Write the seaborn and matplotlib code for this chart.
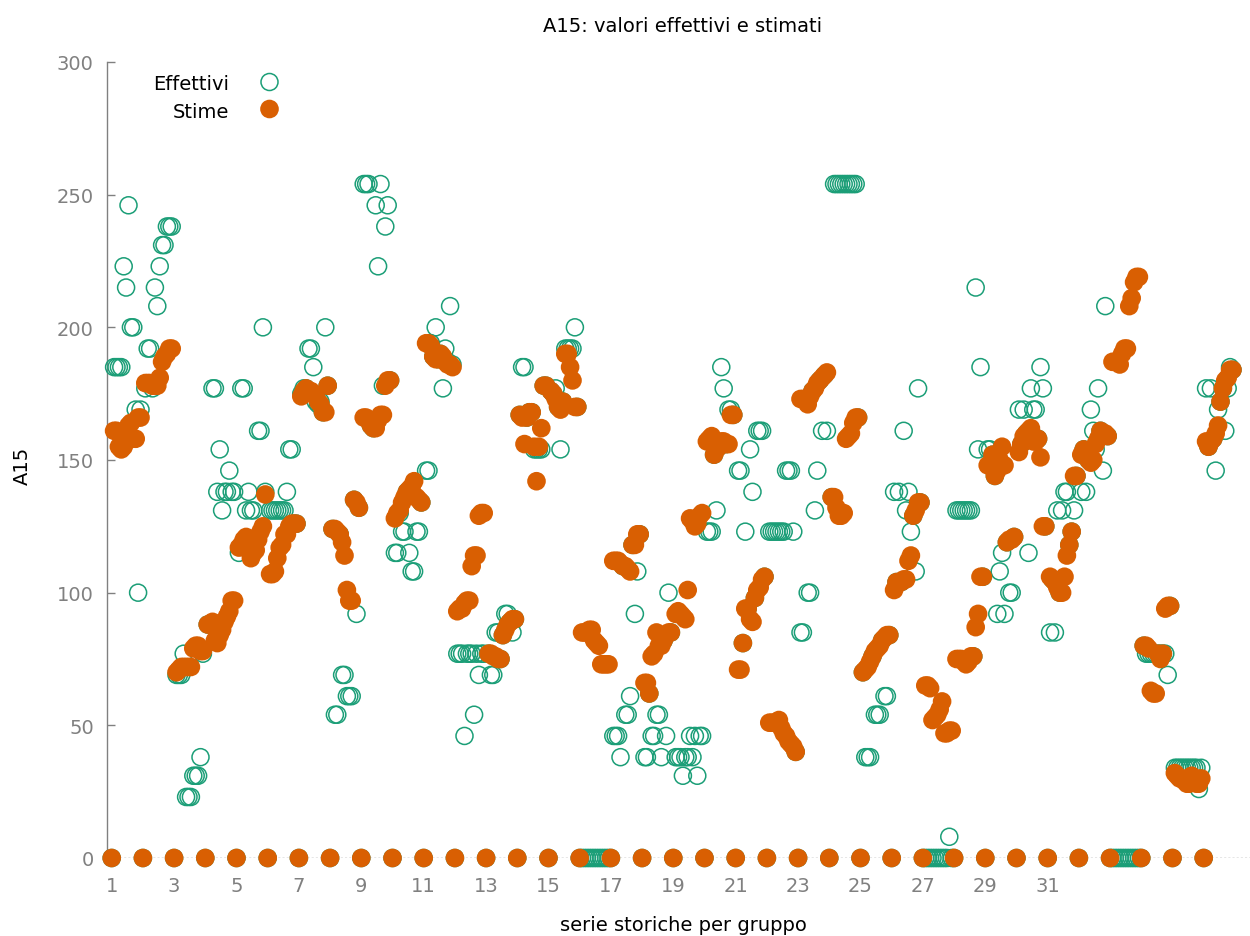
import numpy as np
import pandas as pd
import seaborn as sns
import matplotlib.pyplot as plt

# panel: 36 groups, 13 observations each (first observation of each group is 0)
T = 13
group_labels = [str(g) for g in range(1, 32, 2)]

effettivi = [
    [185, 185, 185, 185, 223, 215, 246, 200, 200, 169, 100, 169],
    [177, 192, 192, 177, 215, 208, 223, 231, 231, 238, 238, 238],
    [69, 69, 69, 77, 23, 23, 23, 31, 31, 31, 38, 77],
    [88, 88, 177, 177, 138, 154, 131, 138, 138, 146, 138, 138],
    [115, 177, 177, 131, 138, 131, 131, 120, 161, 161, 200, 138],
    [131, 131, 131, 131, 131, 131, 131, 138, 154, 154, 126, 126],
    [175, 177, 177, 192, 192, 185, 172, 171, 172, 168, 200, 178],
    [124, 54, 54, 122, 69, 69, 61, 61, 61, 135, 92, 132],
    [254, 254, 254, 163, 162, 246, 223, 254, 178, 238, 246, 180],
    [115, 115, 130, 123, 123, 138, 115, 108, 108, 123, 123, 134],
    [146, 146, 194, 189, 200, 188, 190, 177, 192, 187, 208, 186],
    [77, 77, 77, 46, 77, 77, 77, 54, 77, 69, 77, 77],
    [77, 69, 69, 85, 85, 75, 84, 92, 92, 89, 85, 90],
    [167, 185, 185, 166, 168, 168, 154, 154, 154, 154, 178, 178],
    [176, 175, 177, 170, 154, 172, 192, 192, 192, 192, 200, 170],
    [0, 0, 0, 0, 0, 0, 0, 0, 0, 0, 0, 0],
    [46, 46, 46, 38, 110, 54, 54, 61, 118, 92, 108, 122],
    [38, 38, 62, 46, 46, 54, 54, 38, 82, 46, 100, 85],
    [38, 38, 38, 31, 38, 38, 46, 38, 46, 31, 46, 46],
    [123, 123, 123, 152, 131, 155, 185, 177, 156, 169, 169, 167],
    [146, 146, 81, 123, 94, 154, 138, 98, 161, 161, 161, 106],
    [123, 123, 123, 123, 123, 123, 123, 146, 146, 146, 123, 40],
    [85, 85, 173, 100, 100, 176, 131, 146, 180, 161, 182, 161],
    [136, 254, 254, 254, 254, 254, 254, 254, 254, 254, 254, 166],
    [70, 38, 38, 38, 76, 54, 54, 54, 82, 61, 61, 84],
    [138, 104, 138, 104, 161, 131, 138, 123, 129, 108, 177, 134],
    [0, 0, 0, 0, 0, 0, 0, 0, 0, 0, 8, 0],
    [131, 131, 131, 131, 131, 131, 131, 76, 215, 154, 185, 106],
    [154, 154, 152, 144, 92, 108, 115, 92, 119, 100, 100, 121],
    [169, 156, 169, 160, 115, 177, 169, 169, 158, 185, 177, 125],
    [85, 105, 85, 131, 100, 131, 138, 138, 118, 123, 131, 144],
    [138, 154, 138, 150, 169, 161, 154, 177, 161, 146, 208, 159],
    [0, 0, 0, 0, 0, 0, 0, 0, 0, 0, 0, 0],
    [80, 77, 77, 77, 77, 77, 77, 77, 77, 77, 69, 95],
    [34, 34, 34, 34, 34, 34, 34, 34, 34, 34, 26, 34],
    [177, 155, 177, 158, 146, 169, 172, 177, 161, 177, 185, 184],
]

stime = [
    [161, 161, 155, 154, 155, 160, 163, 164, 158, 158, 166, 166],
    [179, 179, 179, 178, 178, 178, 181, 187, 189, 190, 192, 192],
    [70, 71, 72, 72, 72, 72, 72, 79, 80, 80, 78, 78],
    [88, 88, 89, 82, 81, 84, 86, 89, 91, 93, 97, 97],
    [117, 118, 120, 121, 116, 113, 115, 116, 120, 123, 125, 137],
    [107, 107, 108, 113, 117, 118, 122, 122, 125, 126, 126, 126],
    [174, 176, 177, 176, 176, 175, 174, 172, 171, 168, 168, 178],
    [124, 124, 123, 122, 119, 114, 101, 97, 97, 135, 134, 132],
    [166, 166, 165, 163, 162, 162, 165, 167, 167, 178, 180, 180],
    [128, 130, 131, 134, 136, 138, 139, 140, 142, 136, 135, 134],
    [194, 194, 193, 189, 188, 188, 190, 189, 187, 186, 186, 185],
    [93, 94, 94, 96, 97, 97, 110, 114, 114, 129, 130, 130],
    [77, 77, 76, 76, 75, 75, 84, 86, 88, 89, 90, 90],
    [167, 166, 156, 166, 168, 168, 155, 142, 155, 162, 178, 178],
    [176, 175, 173, 170, 169, 172, 190, 190, 185, 180, 170, 170],
    [85, 85, 85, 86, 86, 82, 81, 80, 73, 73, 73, 73],
    [112, 112, 112, 111, 110, 110, 109, 108, 118, 118, 122, 122],
    [66, 66, 62, 76, 77, 85, 80, 80, 82, 84, 85, 85],
    [92, 93, 92, 91, 90, 101, 128, 127, 125, 126, 129, 130],
    [157, 158, 159, 152, 154, 155, 157, 157, 156, 156, 167, 167],
    [71, 71, 81, 94, 94, 90, 89, 98, 101, 102, 105, 106],
    [51, 51, 51, 51, 52, 49, 47, 46, 44, 43, 42, 40],
    [173, 173, 173, 171, 174, 176, 177, 179, 180, 181, 182, 183],
    [136, 136, 132, 129, 129, 130, 158, 159, 160, 164, 166, 166],
    [70, 71, 72, 74, 76, 78, 79, 80, 82, 83, 84, 84],
    [101, 104, 104, 104, 105, 105, 112, 114, 129, 131, 134, 134],
    [65, 65, 64, 52, 53, 54, 56, 59, 47, 47, 48, 48],
    [75, 75, 75, 74, 73, 74, 76, 76, 87, 92, 106, 106],
    [148, 148, 152, 144, 146, 150, 155, 148, 119, 120, 120, 121],
    [153, 156, 159, 160, 161, 162, 157, 157, 158, 151, 125, 125],
    [106, 105, 104, 102, 100, 100, 106, 114, 118, 123, 144, 144],
    [152, 154, 152, 150, 149, 150, 156, 158, 161, 160, 160, 159],
    [187, 187, 187, 186, 190, 192, 192, 208, 211, 217, 219, 219],
    [80, 80, 79, 63, 62, 62, 77, 75, 77, 94, 95, 95],
    [32, 31, 30, 30, 29, 28, 28, 31, 30, 28, 28, 30],
    [157, 155, 157, 158, 160, 163, 172, 177, 180, 181, 184, 184],
]

# long table, one row per observation
rows = []
for g, (eff, st) in enumerate(zip(effettivi, stime)):
    for k, (e, s) in enumerate(zip([0] + eff, [0] + st)):
        rows.append({"obs": g * T + k + 1, "Effettivi": e, "Stime": s})
df = pd.DataFrame(rows)

green = "#1b9e77"
orange = "#d95f02"
grey = "#808080"

sns.set_theme(style="white")
plt.rcParams['font.family'] = ['DejaVu Sans']
plt.rcParams['text.color'] = 'black'

W, H = 1250, 937
fig = plt.figure(figsize=(W / 100, H / 100), dpi=100)
ax = fig.add_axes([107 / W, 1 - 859 / H, (1250 - 107) / W, (859 - 63) / H])

sns.scatterplot(data=df, x="obs", y="Effettivi", ax=ax, color=green,
                facecolor="none", edgecolor=green, linewidth=1.1, s=150,
                clip_on=False, zorder=3)
sns.scatterplot(data=df, x="obs", y="Stime", ax=ax, color=orange,
                edgecolor="none", s=180, clip_on=False, zorder=4)

ax.axhline(0, color=grey, lw=1, ls=(0, (1.5, 1.5)), zorder=1)

ax.set_xlim(-0.96, 475.3)
ax.set_ylim(0, 300)
ax.set_yticks(range(0, 301, 50))
ax.set_xticks([(int(g) - 1) * T + 1 for g in group_labels])
ax.set_xticklabels(group_labels)
ax.tick_params(axis="y", direction="in", length=6, width=1, color=grey,
               labelcolor=grey, labelsize=14, pad=9.5, left=True)
ax.tick_params(axis="x", length=0, labelcolor=grey, labelsize=14, pad=13)

for side in ["top", "right", "bottom"]:
    ax.spines[side].set_visible(False)
ax.spines["left"].set_color(grey)
ax.spines["left"].set_linewidth(1)
ax.set_xlabel("")
ax.set_ylabel("")

fig.text(683 / W, 1 - 27 / H, "A15: valori effettivi e stimati",
         ha="center", va="center", fontsize=14, color="black")
fig.text(683 / W, 1 - 926 / H, "serie storiche per gruppo",
         ha="center", va="center", fontsize=14, color="black")
fig.text(22 / W, 1 - 466 / H, "A15", ha="center", va="center",
         rotation=90, fontsize=14, color="black")

# legend, text right aligned left of the keys
fig.text(229 / W, 1 - 85 / H, "Effettivi", ha="right", va="center",
         fontsize=14, color="black")
fig.text(229 / W, 1 - 112 / H, "Stime", ha="right", va="center",
         fontsize=14, color="black")
kx = (269.5 - 107) / (1250 - 107)
ax.scatter([kx], [(859 - 83) / 796], transform=ax.transAxes, s=150,
           facecolor="none", edgecolor=green, linewidth=1.1, clip_on=False)
ax.scatter([kx], [(859 - 110) / 796], transform=ax.transAxes, s=180,
           color=orange, edgecolor="none", clip_on=False)

fig.savefig("out.png", dpi=100)
